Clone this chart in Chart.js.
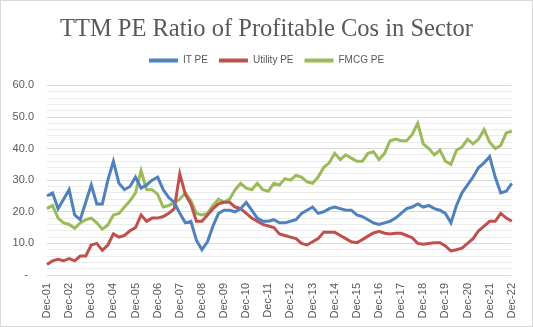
<!DOCTYPE html>
<html>
<head>
<meta charset="utf-8">
<script src="https://cdn.jsdelivr.net/npm/chart.js@4"></script>
<style>
  body { margin: 0; background: #fff; }
  #wrap { width: 533px; height: 327px; }
</style>
</head>
<body>
<div id="wrap"><canvas id="pe-chart"></canvas></div>
<script>
// quarterly readings, Dec-01 .. Dec-22
const quarters = [];
const qMonths = ['Mar', 'Jun', 'Sep', 'Dec'];
quarters.push('Dec-01');
for (let y = 2; y <= 22; y++) {
    qMonths.forEach(m => quarters.push(`${m}-${String(y).padStart(2, '0')}`));
}

const itPE = [25, 26, 21, 24, 27, 19, 17.5, 23, 28.5, 22.5,
    22.5, 30, 36, 29, 27, 28, 31, 27.5, 28.5, 30,
    31, 27, 24.5, 23, 19.5, 16.5, 17, 11, 8, 10.5,
    15.5, 19.5, 20.5, 20.5, 20, 21, 23, 20.5, 18, 17,
    17, 17.5, 16.5, 16.5, 17, 17.5, 19.5, 20.5, 21.5, 19.5,
    20, 21, 21.5, 21, 20.5, 20.5, 19, 18.5, 17.5, 16.5,
    16, 16.5, 17, 18, 19.5, 21, 21.5, 22.5, 21.5, 22,
    21, 20.5, 19.5, 16.5, 22, 26, 28.5, 31, 34, 35.5,
    37.5, 31, 26, 26.5, 29];

const utilityPE = [3.3, 4.5, 5, 4.5, 5.2, 4.5, 6, 6, 9.5, 10,
    7.8, 9.5, 13, 12, 12.5, 14, 15, 19, 17, 18,
    18, 18.5, 19.5, 21, 32, 25.5, 22.5, 17, 17, 19,
    21, 22.5, 23, 23, 21.5, 21, 19.5, 18, 17, 16,
    15.5, 15, 13, 12.5, 12, 11.5, 10, 9.5, 10.5, 11.5,
    13.5, 13.5, 13.5, 12.5, 11.5, 10.5, 10.2, 11.2, 12.3, 13.3,
    13.8, 13.2, 13, 13.2, 13.2, 12.5, 11.8, 10, 9.7, 10,
    10.2, 10.2, 9.2, 7.6, 8, 8.5, 10, 11.5, 14, 15.5,
    17, 17, 19.5, 18, 17];

const fmcgPE = [21, 22, 18, 16.5, 16, 14.8, 16.5, 17.5, 18, 16.5,
    14.5, 15.8, 19, 19.5, 21.5, 23.5, 26, 33, 27, 27,
    25.5, 21.5, 22, 22.8, 24, 26, 23.5, 19.5, 19, 19.5,
    22, 24, 23, 24, 27, 29, 27.5, 27, 29, 27,
    26.5, 29, 28.5, 30.5, 30, 31.5, 31, 29.5, 29, 31,
    34, 35.5, 38.5, 36.5, 38, 37, 36, 36, 38.5, 39,
    36.5, 38.5, 42.5, 43, 42.5, 42.5, 44.5, 48, 41.5, 40,
    38, 39.5, 36, 35, 39.5, 40.5, 43, 41.5, 43, 46,
    42, 40, 41, 45, 45.5];

const seriesNames = ['IT PE', 'Utility PE', 'FMCG PE'];
const seriesColors = ['#4F81BD', '#C0504D', '#9BBB59'];
const yTicks = [0, 10, 20, 30, 40, 50, 60];

const textColor = '#595959';

const frame = {
    id: 'frame',
    beforeDraw(c) {
        const ctx = c.ctx;
        ctx.save();
        ctx.fillStyle = '#fff';
        ctx.fillRect(0, 0, c.width, c.height);
        ctx.strokeStyle = '#d9d9d9';
        ctx.strokeRect(0.5, 0.5, c.width - 1, c.height - 1);
        ctx.restore();
    }
};

// extra room under the legend
const legendGap = {
    id: 'legendGap',
    afterInit(c) {
        const fit = c.legend.fit;
        c.legend.fit = function () {
            fit.call(this);
            this.height += 10;
        };
    }
};

const ctx = document.getElementById('pe-chart').getContext('2d');
const chart = new Chart(ctx, {
    type: 'line',
    data: {
        labels: quarters,
        datasets: [itPE, utilityPE, fmcgPE].map((d, i) => ({
            label: seriesNames[i],
            data: d,
            borderColor: seriesColors[i],
            backgroundColor: seriesColors[i],
            borderWidth: 3,
            pointRadius: 0,
            tension: 0,
            fill: false
        }))
    },
    options: {
        responsive: true,
        maintainAspectRatio: false,
        animation: false,
        layout: { padding: 0 },
        plugins: {
            title: {
                display: true,
                text: 'TTM PE Ratio of Profitable Cos in Sector',
                color: textColor,
                font: { family: 'Liberation Serif', size: 24.5, weight: 'normal' },
                padding: { top: 15, bottom: 0 }
            },
            legend: {
                display: true,
                labels: {
                    color: textColor,
                    font: { family: 'Liberation Sans', size: 10 },
                    boxWidth: 29,
                    boxHeight: 4,
                    padding: 11,
                    generateLabels(c) {
                        const items = Chart.defaults.plugins.legend.labels.generateLabels(c);
                        items.forEach(it => { it.lineWidth = 0; it.fillStyle = seriesColors[it.datasetIndex]; });
                        return items;
                    }
                }
            },
            tooltip: { enabled: false }
        },
        scales: {
            x: {
                grid: { display: false, drawTicks: false },
                border: { display: false },
                ticks: {
                    color: textColor,
                    font: { family: 'Liberation Sans', size: 11 },
                    autoSkip: false,
                    minRotation: 90,
                    maxRotation: 90,
                    padding: 8,
                    callback: (v, i) => (i % 4 === 0 ? quarters[i] : '')
                },
                afterFit: s => { s.height = 52; }
            },
            y: {
                min: 0,
                max: 60,
                grid: {
                    drawTicks: false,
                    color: c => (yTicks.includes(c.tick.value) ? '#d9d9d9' : '#ebebeb'),
                    lineWidth: 1
                },
                border: { display: false },
                ticks: {
                    stepSize: 2,
                    autoSkip: false,
                    color: textColor,
                    font: { family: 'Liberation Sans', size: 11 },
                    padding: 13,
                    callback: v => (yTicks.includes(v) ? (v === 0 ? '-  ' : v.toFixed(1)) : '')
                },
                afterFit: s => { s.width = 47; }
            },
            // empty right margin so the title stays centred on the page
            yRight: {
                position: 'right',
                grid: { display: false, drawTicks: false },
                border: { display: false },
                ticks: { display: false },
                afterFit: s => { s.width = 15; }
            }
        }
    },
    plugins: [frame, legendGap]
});
</script>
</body>
</html>
